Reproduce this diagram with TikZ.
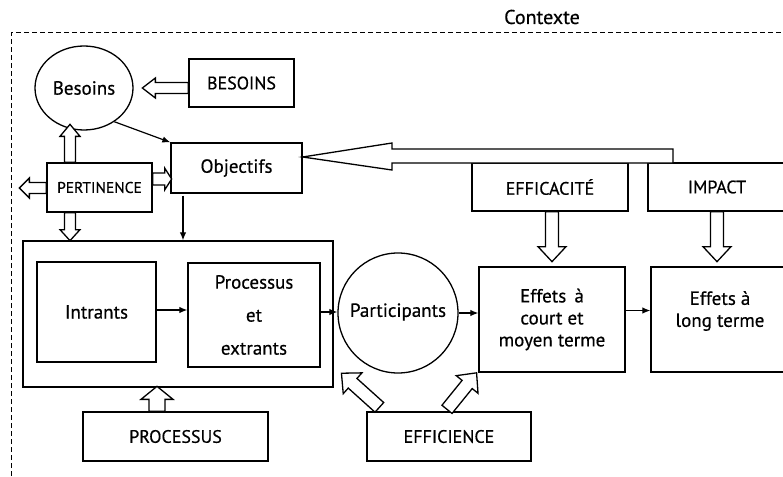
\documentclass[tikz,border=0pt]{standalone}
\usepackage{fontspec}
\setmainfont{PT Sans}[FakeBold=0.5]
\usetikzlibrary{arrows.meta,shapes.geometric,calc}
\tikzset{
  box/.style={draw,line width=1.3pt,rectangle,inner sep=0pt,align=center,font=\fontsize{19}{22}\selectfont},
  capbox/.style={box,font=\fontsize{18}{20}\selectfont},
  roundnode/.style={draw,line width=1.3pt,ellipse,inner sep=0pt,font=\fontsize{19}{22}\selectfont},
  hollow/.style={draw,line width=1.3pt,fill=white,line join=miter},
  thinarrow/.style={line width=1.2pt,-{Latex[length=8pt,width=6.5pt]}},
  frame/.style={line width=1pt,dash pattern=on 5pt off 3pt}
}
% #1 start, #2 angle, #3 length, #4 shaft half width, #5 head half width, #6 head length
\newcommand\harrow[6]{%
  \draw[hollow,shift={(#1)},rotate=#2] (0,-#4) -- ({#3-#6},-#4) -- ({#3-#6},-#5) -- (#3,0) -- ({#3-#6},#5) -- ({#3-#6},#4) -- (0,#4) -- cycle;}
\begin{document}
\begin{tikzpicture}[x=1pt,y=1pt]
\useasboundingbox (0,0) rectangle (783,-476);
% context frame
\draw[frame] (11,-476) -- (11,-33) -- (790,-33);
\node[font=\fontsize{20}{22}\selectfont] (ctx) at (542,-17) {Contexte};

% nodes
\node[roundnode,minimum width=98,minimum height=84] (besoins) at (84,-88) {Besoins};
\node[capbox,minimum width=105,minimum height=48] (BES) at (241.5,-83) {BESOINS};
\node[box,minimum width=131,minimum height=50] (obj) at (236.5,-168) {Objectifs};
\node[capbox,minimum width=105,minimum height=49,font=\fontsize{15.5}{18}\selectfont] (pert) at (99.5,-187.5) {PERTINENCE};
\node[box,minimum width=310,minimum height=146] (big) at (178,-314) {};
\node[box,minimum width=119,minimum height=100] (intr) at (96.5,-312) {Intrants};
\node[box,minimum width=132,minimum height=104,font=\fontsize{19}{33}\selectfont] (proc) at (254,-315) {Processus\\et\\extrants};
\node[roundnode,minimum width=120,minimum height=120,
  label={[font=\fontsize{19}{22}\selectfont,yshift=1pt]center:Participants}] (part) at (398,-313) {};
\node[box,minimum width=146,minimum height=105] (eff1) at (552,-319.5) {Effets\, à\\court et\\moyen terme};
\node[box,minimum width=138,minimum height=105,
  label={[yshift=8.5pt,align=center,font=\fontsize{19}{22}\selectfont]center:Effets à\\long terme}] (eff2) at (720,-319.5) {};
\node[capbox,minimum width=156,minimum height=48] (effic) at (550,-187) {EFFICACITÉ};
\node[capbox,minimum width=138,minimum height=48] (imp) at (717,-187) {IMPACT};
\node[capbox,minimum width=185,minimum height=49] (PROC) at (175.5,-436.5) {PROCESSUS};
\node[capbox,minimum width=164,minimum height=49] (EFFI) at (449,-436.5) {EFFICIENCE};

% thin connectors
\draw[thinarrow] (besoins.-48) -- (obj.north west);
\coordinate (o1) at ([xshift=-53.5]obj.south);
\draw[thinarrow] ([yshift=-2]o1) -- (o1 |- big.north);
\draw[thinarrow] ([yshift=2]intr.east) -- ([yshift=2]intr.east -| proc.west);
\draw[thinarrow] ([yshift=3]proc.east) -- ([yshift=3]proc.east -| part.west);
\draw[thinarrow] (part.east) -- (part.east -| eff1.west);
\draw[thinarrow] ([yshift=9]eff1.east) -- ([yshift=9]eff1.east -| eff2.west);

% hollow arrows
\harrow{[yshift=-5]BES.west}{180}{46}{5.5}{10}{13}
\harrow{[xshift=-29.5]pert.north}{90}{38}{5.5}{10}{12}
\harrow{[yshift=-0.5]pert.west}{180}{27}{5.5}{10}{10}
\harrow{[yshift=8.5]pert.east}{0}{19}{6}{11}{7}
\harrow{[xshift=-29.5]pert.south}{-90}{28}{5.5}{10}{11}
\harrow{[xshift=2]effic.south}{-90}{50}{6.5}{14}{15}
\harrow{imp.south}{-90}{50}{6.5}{14}{15}
\harrow{[xshift=-18.5]PROC.north}{90}{25}{8}{16}{13}
\harrow{$(EFFI.north west)+(13,4)$}{138}{51}{6.5}{14}{15}
\harrow{$(EFFI.north)+(-2,2)$}{51}{47}{6.5}{14}{15}

% big arrow from IMPACT to Objectifs
\draw[hollow] (673,-163) -- (673,-149) -- (392,-149) -- (392,-143) -- (obj.east |- 0,-157) -- (392,-170) -- (392,-163) -- cycle;
\end{tikzpicture}
\end{document}
